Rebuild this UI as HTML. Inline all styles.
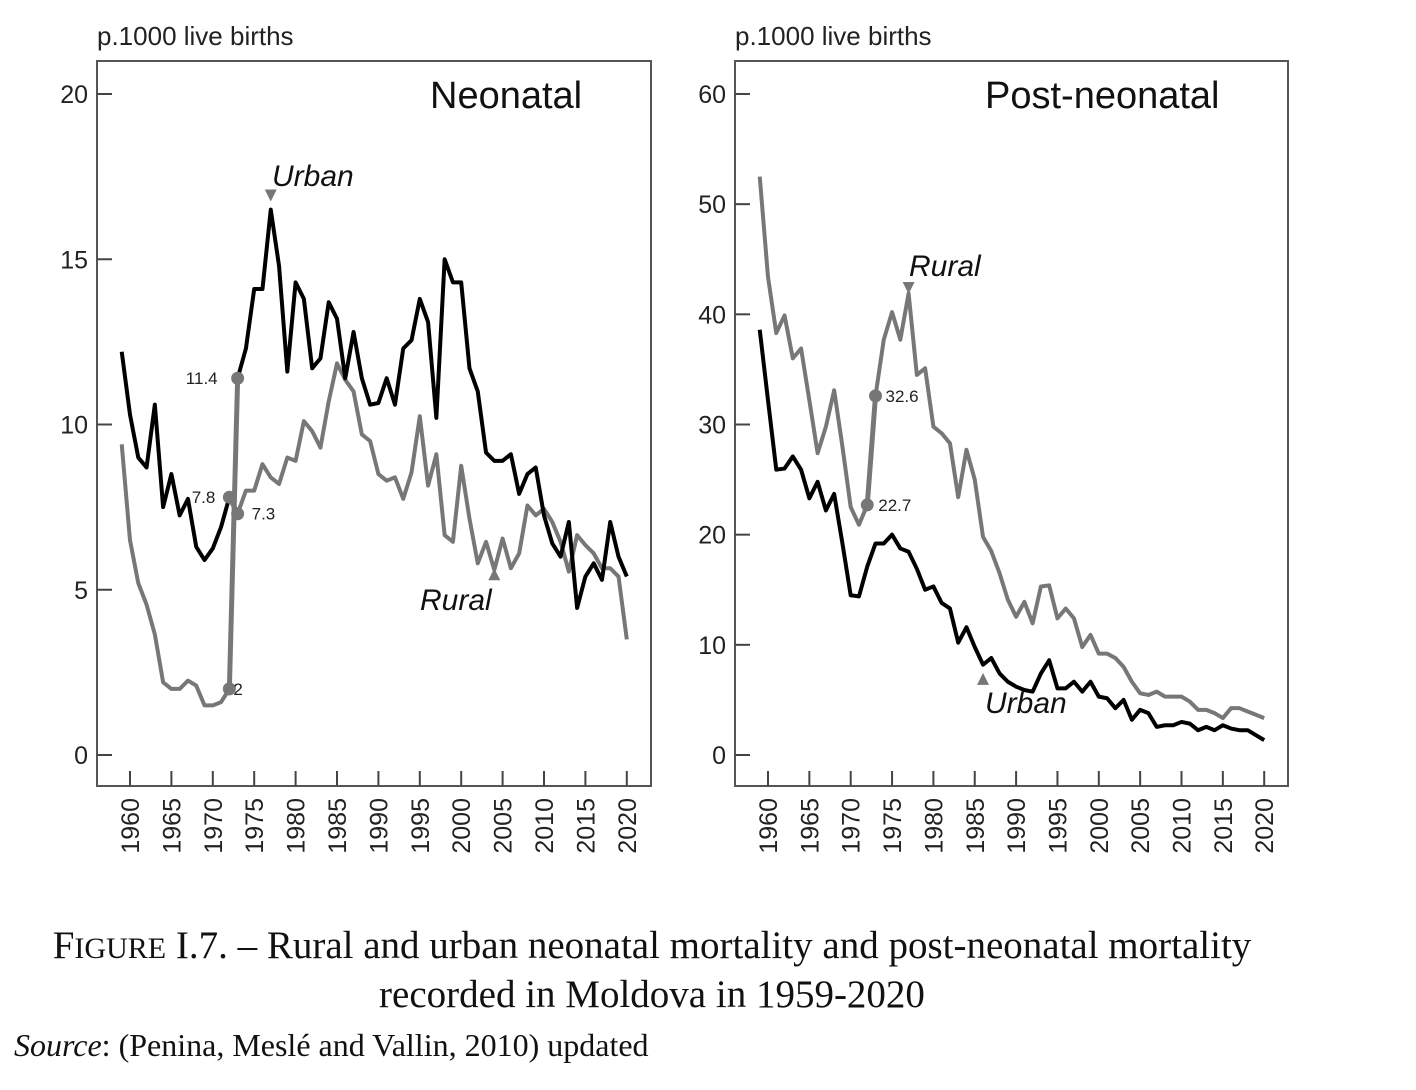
<!DOCTYPE html>
<html><head><meta charset="utf-8">
<style>
html,body{margin:0;padding:0;background:#fff;width:1416px;height:1090px;overflow:hidden}
svg{display:block}
.cap{position:absolute;left:0;width:1304px;text-align:center;font-family:"Liberation Serif",serif;font-size:39px;color:#111;line-height:46px}
</style></head>
<body>
<svg id="chart" width="1416" height="910" xmlns="http://www.w3.org/2000/svg" font-family="Liberation Sans, sans-serif"></svg>
<div class="cap" style="top:923px"><span style="font-size:39px">F</span><span style="font-size:30px">IGURE</span> I.7. – Rural and urban neonatal mortality and post-neonatal mortality<br>recorded in Moldova in 1959-2020</div>
<div style="position:absolute;left:14px;top:1027px;font-family:'Liberation Serif',serif;font-size:32px;color:#111"><i>Source</i>: (Penina, Meslé and Vallin, 2010) updated</div>
<script>
const years = []; for (let y = 1959; y <= 2020; y++) years.push(y);
const neoUrban = [12.2,10.3,9.0,8.7,10.6,7.5,8.5,7.25,7.75,6.3,5.9,6.25,6.9,7.8,11.4,12.3,14.1,14.1,16.5,14.8,11.6,14.3,13.8,11.7,12.0,13.7,13.2,11.4,12.8,11.4,10.6,10.65,11.4,10.6,12.3,12.55,13.8,13.1,10.2,15.0,14.3,14.3,11.7,11.0,9.15,8.9,8.9,9.1,7.9,8.5,8.7,7.25,6.4,6.0,7.05,4.45,5.4,5.8,5.3,7.05,6.0,5.4];
const neoRural = [9.4,6.5,5.2,4.55,3.65,2.2,2.0,2.0,2.25,2.1,1.5,1.5,1.6,2.0,7.3,8.0,8.0,8.8,8.4,8.2,9.0,8.9,10.1,9.8,9.3,10.7,11.85,11.35,11.0,9.7,9.5,8.5,8.3,8.4,7.75,8.55,10.25,8.15,9.1,6.65,6.45,8.75,7.15,5.8,6.45,5.6,6.55,5.65,6.1,7.55,7.25,7.45,7.05,6.45,5.55,6.65,6.35,6.1,5.65,5.65,5.4,3.5];
const postRural = [52.5,43.4,38.3,39.9,36.0,36.9,32.2,27.4,29.8,33.1,28.0,22.5,20.9,22.7,32.6,37.7,40.2,37.7,41.9,34.5,35.1,29.8,29.2,28.3,23.4,27.7,25.0,19.8,18.5,16.5,14.1,12.55,13.9,11.95,15.3,15.4,12.4,13.3,12.4,9.8,10.9,9.2,9.2,8.8,8.0,6.65,5.6,5.45,5.75,5.3,5.3,5.3,4.85,4.1,4.1,3.8,3.35,4.25,4.25,3.95,3.65,3.35];
const postUrban = [38.6,32.2,25.9,26.0,27.1,25.9,23.3,24.8,22.2,23.7,19.2,14.5,14.4,17.1,19.2,19.2,20.0,18.75,18.45,16.9,15.0,15.3,13.8,13.3,10.2,11.6,9.8,8.2,8.8,7.4,6.65,6.2,5.9,5.75,7.4,8.6,6.05,6.05,6.65,5.75,6.65,5.3,5.15,4.25,5.0,3.2,4.1,3.8,2.55,2.7,2.7,3.0,2.85,2.25,2.55,2.25,2.7,2.4,2.25,2.25,1.8,1.35];
const xTickLabels = [1960,1965,1970,1975,1980,1985,1990,1995,2000,2005,2010,2015,2020];
const neoYTicks = [0,5,10,15,20];
const postYTicks = [0,10,20,30,40,50,60];

const svg = document.getElementById('chart');
const NS = 'http://www.w3.org/2000/svg';
function mk(tag, attrs, parent){ const e=document.createElementNS(NS,tag); for(const k in attrs) e.setAttribute(k,attrs[k]); (parent||svg).appendChild(e); return e; }

function panel(p){
  const g = mk('g',{});
  
  
  const xS = yr => p.x0 + (yr-1960)*p.xStep;
  const yS = v => 755 - v*p.yPer;
  const box = mk('rect',{x:p.left,y:61,width:p.right-p.left,height:725,fill:'none',stroke:'#555','stroke-width':2},g);
   
  const ul = mk('text',{x:p.left,y:45,'font-size':26,fill:'#222'},g); ul.textContent='p.1000 live births';
   
  const tt = mk('text',{x:p.titleX,y:108,'font-size':38,fill:'#111'},g); tt.textContent=p.title;
   
  p.yTicks.forEach(v=>{
    const l=mk('line',{x1:p.left,x2:p.left+15,y1:yS(v),y2:yS(v),stroke:'#444','stroke-width':2},g);
     
    const t=mk('text',{x:p.left-9,y:yS(v)+9,'font-size':25,'text-anchor':'end',fill:'#222'},g); t.textContent=v;
     
  });
  xTickLabels.forEach(yr=>{
    const x=xS(yr);
    const l=mk('line',{x1:x,x2:x,y1:771,y2:786,stroke:'#444','stroke-width':2},g);
     
    const t=mk('text',{x:0,y:0,'font-size':25,'text-anchor':'end',fill:'#222',transform:`translate(${x+9},798) rotate(-90)`},g); t.textContent=yr;
     
  });
  function seg(vals, i0, i1, col, w, name){
    let d=''; for(let i=i0;i<=i1;i++) d+=(i===i0?'M':'L')+xS(years[i])+','+yS(vals[i]);
    const e=mk('path',{d:d,fill:'none',stroke:col,'stroke-width':w,'stroke-linejoin':'round'},g);
     
  }
  p.draw(seg, xS, yS, g);
  p.labels.forEach(L=>{
    const t=mk('text',{x:L.x,y:L.y,'font-size':30,'font-style':'italic',fill:'#111'},g); t.textContent=L.t;
     
  });
  p.markers.forEach(M=>{
    const x=xS(M.yr), y=yS(M.v);
    const pts = M.down ? `${x-6},${y-7} ${x+6},${y-7} ${x},${y+5}` : `${x-6},${y+7} ${x+6},${y+7} ${x},${y-5}`;
    const e=mk('polygon',{points:pts,fill:'#777'},g);
     
  });
}
const i72 = years.indexOf(1972), i73 = years.indexOf(1973);
function dot(xS,yS,g,yr,v,lbl,dx,anchor){
  const c=mk('circle',{cx:xS(yr),cy:yS(v),r:6.5,fill:'#777'},g);
   
  const t=mk('text',{x:xS(yr)+dx,y:yS(v)+6,'font-size':17,'text-anchor':anchor,fill:'#222'},g); t.textContent=lbl;
   
}
panel({name:'neonatal-panel',left:97,right:651,x0:130,xStep:8.28,yPer:33.05,yTicks:neoYTicks,title:'Neonatal',titleX:430,
  labels:[{t:'Urban',x:272,y:186},{t:'Rural',x:420,y:610}],
  markers:[{yr:1977,v:16.9,down:true},{yr:2004,v:5.5,down:false}],
  draw:(seg,xS,yS,g)=>{
    seg(neoRural,0,i72,'#777',4,'rural-line');
    seg(neoRural,i73,years.length-1,'#777',4,'rural-line');
    seg(neoUrban,0,i72,'#000',4,'urban-line');
    seg(neoUrban,i73,years.length-1,'#000',4,'urban-line');
    const c1=mk('line',{x1:xS(1972),y1:yS(neoRural[i72]),x2:xS(1973),y2:yS(neoUrban[i73]),stroke:'#777','stroke-width':5},g);
     
    const c2=mk('line',{x1:xS(1972),y1:yS(neoUrban[i72]),x2:xS(1973),y2:yS(neoRural[i73]),stroke:'#777','stroke-width':5},g);
     
    dot(xS,yS,g,1973,neoUrban[i73],String(neoUrban[i73]),-20,'end');
    dot(xS,yS,g,1972,neoUrban[i72],String(neoUrban[i72]),-14,'end');
    dot(xS,yS,g,1973,neoRural[i73],String(neoRural[i73]),14,'start');
    dot(xS,yS,g,1972,neoRural[i72],String(neoRural[i72]),4,'start');
  }});
panel({name:'post-neonatal-panel',left:735,right:1288,x0:768,xStep:8.27,yPer:11.017,yTicks:postYTicks,title:'Post-neonatal',titleX:985,
  labels:[{t:'Rural',x:909,y:276},{t:'Urban',x:985,y:713}],
  markers:[{yr:1977,v:42.3,down:true},{yr:1986,v:7.0,down:false}],
  draw:(seg,xS,yS,g)=>{
    seg(postRural,0,i72,'#777',4,'rural-line');
    seg(postRural,i73,years.length-1,'#777',4,'rural-line');
    seg(postUrban,0,years.length-1,'#000',4,'urban-line');
    const c=mk('line',{x1:xS(1972),y1:yS(postRural[i72]),x2:xS(1973),y2:yS(postRural[i73]),stroke:'#777','stroke-width':5},g);
     
    dot(xS,yS,g,1973,postRural[i73],String(postRural[i73]),10,'start');
    dot(xS,yS,g,1972,postRural[i72],String(postRural[i72]),11,'start');
  }});
</script>
</body></html>
